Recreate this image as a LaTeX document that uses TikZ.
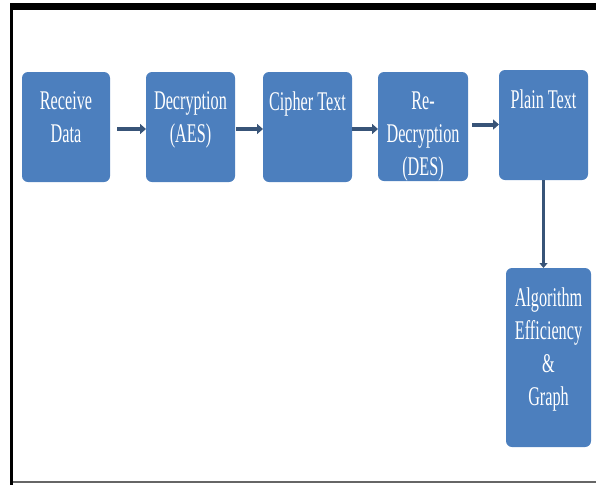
\documentclass[tikz,border=0pt]{standalone}
\usepackage{fontspec}
\setmainfont{Liberation Serif}[FakeStretch=0.6]
\usetikzlibrary{arrows.meta}
\definecolor{boxblue}{RGB}{76,127,190}
\definecolor{arrowblue}{RGB}{56,84,120}
\newcommand{\boxtext}[3]{\parbox[c][#2][t]{#1}{\centering\fontsize{27}{33}\selectfont\color{white}\vspace*{20pt}#3\par}}
\tikzset{
  procbox/.style={draw=none, fill=boxblue, rounded corners=6pt, inner sep=0pt, outer sep=0pt},
  flowarrow/.style={draw=arrowblue, line width=4pt, -{Triangle[length=6pt,width=10pt]}},
  downarrow/.style={draw=arrowblue, line width=3pt, -{Triangle[length=5pt,width=8pt]}}
}
\begin{document}
\begin{tikzpicture}[x=1pt,y=-1pt]
\useasboundingbox (0,0) rectangle (596,485);
% frame
\fill[black] (10,3) rectangle (596,10);
\fill[black] (10,3) rectangle (13,485);
\fill[black!60] (13,481) rectangle (596,483);
% boxes
\node[procbox, anchor=north west] (recv) at (22,72) {\boxtext{88pt}{110pt}{Receive\\Data}};
\node[procbox, anchor=north west] (aes) at (146,72) {\boxtext{89pt}{110pt}{Decryption\\(AES)}};
\node[procbox, anchor=north west] (cipher) at (263,72) {\boxtext{89pt}{110pt}{Cipher Text}};
\node[procbox, anchor=north west] (des) at (378,72) {\boxtext{90pt}{109pt}{Re-\\Decryption\\(DES)}};
\node[procbox, anchor=north west] (plain) at (499,70) {\boxtext{89pt}{110pt}{Plain Text}};
\node[procbox, anchor=north west] (algo) at (506,268) {\boxtext{85pt}{179pt}{Algorithm\\Efficiency\\\&\\Graph}};
% arrows
\draw[flowarrow, shorten <=7pt] ([yshift=-2pt]recv.east) -- ([yshift=-2pt]recv.east -| aes.west);
\draw[flowarrow, shorten <=1pt] ([yshift=-2pt]aes.east) -- ([yshift=-2pt]aes.east -| cipher.west);
\draw[flowarrow] ([yshift=-2pt]cipher.east) -- ([yshift=-2pt]cipher.east -| des.west);
\draw[flowarrow, shorten <=4pt] ([yshift=2pt]des.east) -- ([yshift=2pt]des.east -| plain.west);
\draw[downarrow] (plain.south) -- (plain.south |- algo.north);
\end{tikzpicture}
\end{document}
